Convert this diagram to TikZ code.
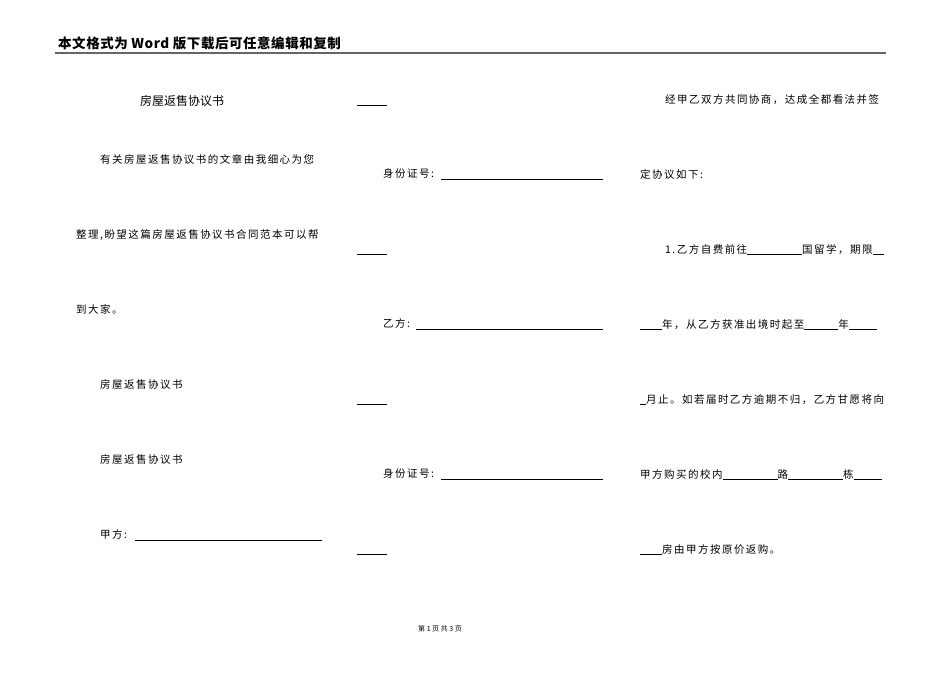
\documentclass[tikz,border=0pt]{standalone}
\usepackage{fontspec}
\newfontfamily\cjk[LetterSpace=14]{Noto Sans CJK SC}
\newfontfamily\cjkb[LetterSpace=0]{Noto Sans CJK SC}
\newfontfamily\cjkh[LetterSpace=4]{Noto Sans CJK SC}
\begin{document}
\begin{tikzpicture}[x=1pt,y=-1pt,
  txt/.style={anchor=base west,inner sep=0pt,font=\cjk\fontsize{10.5}{12}\selectfont},
  uline/.style={line width=0.6pt}]
\useasboundingbox[fill=white] (0,0) rectangle (950,672);
\node[txt,font=\cjkh\bfseries\fontsize{13.5}{15}\selectfont] (h) at (58,48) {本文格式为\ Word\ 版下载后可任意编辑和复制};
\draw[line width=1.5pt,gray!80!black] (55,53) -- (886,53);
% column 1
\node[txt,font=\cjkb\fontsize{12}{14}\selectfont] (t) at (140,105) {房屋返售协议书};
\node[txt] (a1) at (100,163) {有关房屋返售协议书的文章由我细心为您};
\node[txt] (a2) at (76,238) {整理,盼望这篇房屋返售协议书合同范本可以帮};
\node[txt] (a3) at (76,313) {到大家。};
\node[txt] (a4) at (100,388) {房屋返售协议书};
\node[txt] (a5) at (100,463) {房屋返售协议书};
\node[txt] (a6) at (100,538) {甲方:};
\draw[uline] (135,540) -- (322,540);
% column 2
\foreach \y in {105,254,404,554} \draw[uline] (357,\y) -- (387,\y);
\node[txt] (b1) at (383,177) {身份证号:};
\draw[uline] (441,179) -- (603,179);
\node[txt] (b2) at (383,327) {乙方:};
\draw[uline] (416,329) -- (603,329);
\node[txt] (b3) at (383,477) {身份证号:};
\draw[uline] (441,479) -- (603,479);
% column 3
\node[txt] (c1) at (665,103) {经甲乙双方共同协商，达成全都看法并签};
\node[txt] (c2) at (640,178) {定协议如下:};
\node[txt] (c3) at (665,253) {1.乙方自费前往\rule[-1.5pt]{55pt}{0.5pt}国留学，期限\rule[-1.5pt]{11pt}{0.5pt}};
\node[txt] (c4) at (640,328) {\rule[-1.5pt]{22pt}{0.5pt}年，从乙方获准出境时起至\rule[-1.5pt]{34pt}{0.5pt}年\rule[-1.5pt]{28pt}{0.5pt}};
\node[txt] (c5) at (640,403) {\rule[-1.5pt]{6pt}{0.5pt}月止。如若届时乙方逾期不归，乙方甘愿将向};
\node[txt] (c6) at (640,478) {甲方购买的校内\rule[-1.5pt]{55pt}{0.5pt}路\rule[-1.5pt]{55pt}{0.5pt}栋\rule[-1.5pt]{28pt}{0.5pt}};
\node[txt] (c7) at (640,553) {\rule[-1.5pt]{22pt}{0.5pt}房由甲方按原价返购。};
\node[txt,font=\cjkb\fontsize{7}{8}\selectfont,anchor=base] (f) at (440,631) {第\ 1\ 页\ 共\ 3\ 页};
\end{tikzpicture}
\end{document}
